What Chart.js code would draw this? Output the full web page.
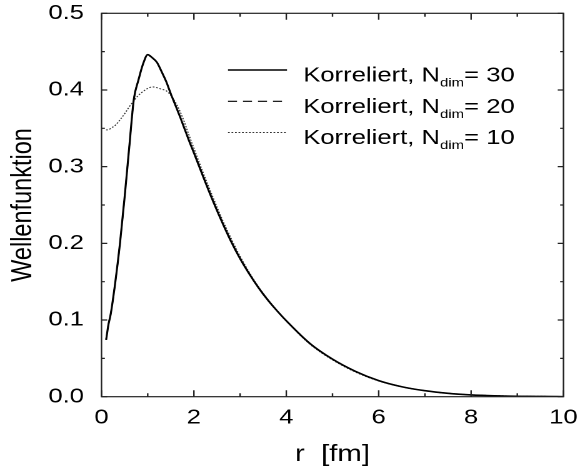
<!DOCTYPE html>
<html>
<head>
<meta charset="utf-8">
<script src="https://cdn.jsdelivr.net/npm/chart.js@4.4.0/dist/chart.umd.min.js"></script>
<style>
    html, body { margin: 0; padding: 0; background: #fff; overflow: hidden; }
    /* the reference is a horizontally stretched plot, so draw narrow and stretch */
    #wrap { width: 462.4px; height: 472px; transform: scaleX(1.25); transform-origin: 0 0; }
</style>
</head>
<body>
<div id="wrap"><canvas id="chart"></canvas></div>
<script>
const rValues = [0.1, 0.15, 0.2, 0.3, 0.4, 0.5, 0.6, 0.7, 0.8, 0.9, 1.0, 1.1, 1.2, 1.3, 1.4, 1.5, 1.6, 1.7, 1.8, 1.9, 2.0,
    2.2, 2.4, 2.6, 2.8, 3.0, 3.2, 3.4, 3.6, 3.8, 4.0, 4.5, 5.0, 5.5, 6.0, 6.5, 7.0, 7.5, 8.0, 8.5, 9.0, 9.5, 10.0];

const psiN30 = [0.074, 0.094, 0.108, 0.150, 0.200, 0.260, 0.325, 0.388, 0.413, 0.434, 0.446, 0.442, 0.436, 0.424, 0.411, 0.395, 0.380, 0.365, 0.349, 0.333, 0.318,
    0.287, 0.257, 0.229, 0.203, 0.180, 0.160, 0.142, 0.126, 0.112, 0.099, 0.070, 0.049, 0.033, 0.021, 0.013, 0.0078, 0.0044, 0.0023, 0.0012, 0.0006, 0.0003, 0.0001];

const psiN20 = [0.075, 0.094, 0.108, 0.150, 0.200, 0.260, 0.325, 0.388, 0.413, 0.434, 0.445, 0.442, 0.436, 0.424, 0.411, 0.395, 0.380, 0.365, 0.349, 0.333, 0.318,
    0.287, 0.257, 0.229, 0.203, 0.180, 0.160, 0.142, 0.126, 0.112, 0.099, 0.070, 0.049, 0.033, 0.021, 0.013, 0.0078, 0.0044, 0.0023, 0.0012, 0.0006, 0.0003, 0.0001];

const psiN10 = [0.348, 0.348, 0.350, 0.354, 0.361, 0.369, 0.378, 0.386, 0.393, 0.398, 0.402, 0.404, 0.403, 0.401, 0.399, 0.393, 0.384, 0.372, 0.357, 0.340, 0.324,
    0.292, 0.262, 0.233, 0.207, 0.183, 0.162, 0.143, 0.127, 0.112, 0.099, 0.069, 0.048, 0.032, 0.0205, 0.0128, 0.0078, 0.0046, 0.0025, 0.0014, 0.0007, 0.0004, 0.0002];

const seriesDims = ['30', '20', '10'];
const FONT = "'Liberation Sans', Arial, Helvetica, sans-serif";

const toPoints = arr => arr.map((v, i) => ({ x: rValues[i], y: v }));

// gnuplot-style box with inward ticks on all four sides
const frameAndTicks = {
    id: 'frameAndTicks',
    afterDatasetsDraw(chart) {
        const { ctx, chartArea: a, scales: { x, y } } = chart;
        ctx.save();
        ctx.strokeStyle = '#222';
        ctx.lineWidth = 1.2;
        ctx.strokeRect(a.left, a.top, a.right - a.left, a.bottom - a.top);
        ctx.beginPath();
        for (let v = 0; v <= 10; v++) {
            const px = x.getPixelForValue(v);
            const len = v % 2 === 0 ? 6.5 : 3.5;
            ctx.moveTo(px, a.bottom); ctx.lineTo(px, a.bottom - len);
            ctx.moveTo(px, a.top); ctx.lineTo(px, a.top + len);
        }
        for (let i = 0; i <= 10; i++) {
            const py = y.getPixelForValue(i * 0.05);
            const len = i % 2 === 0 ? 4.6 : 2.7;
            ctx.moveTo(a.left, py); ctx.lineTo(a.left + len, py);
            ctx.moveTo(a.right, py); ctx.lineTo(a.right - len, py);
        }
        ctx.stroke();
        ctx.restore();
    }
};

// legend with subscript N_dim
const subLegend = {
    id: 'subLegend',
    afterDraw(chart) {
        const ctx = chart.ctx;
        const lineX0 = 182.4, lineX1 = 229.6, textX = 242.6;
        const rowY = [81.5, 112.8, 144];
        ctx.save();
        chart.data.datasets.forEach((ds, i) => {
            const base = rowY[i];
            ctx.beginPath();
            ctx.strokeStyle = ds.borderColor;
            ctx.lineWidth = ds.borderWidth;
            ctx.setLineDash(ds.borderDash || []);
            ctx.moveTo(lineX0, base - 11.5);
            ctx.lineTo(lineX1, base - 11.5);
            ctx.stroke();
            ctx.setLineDash([]);

            ctx.fillStyle = '#000';
            ctx.textBaseline = 'alphabetic';
            ctx.textAlign = 'left';
            let cx = textX;
            ctx.font = '20.5px ' + FONT;
            ctx.fillText('Korreliert, N', cx, base);
            cx += ctx.measureText('Korreliert, N').width;
            ctx.font = '12px ' + FONT;
            ctx.fillText('dim', cx, base + 5);
            cx += ctx.measureText('dim').width;
            ctx.font = '20.5px ' + FONT;
            ctx.fillText('= ' + seriesDims[i], cx, base);
        });
        ctx.restore();
    }
};

new Chart(document.getElementById('chart'), {
    type: 'line',
    data: {
        datasets: [
            { label: 'N30', data: toPoints(psiN30), borderColor: '#000', borderWidth: 1.6, cubicInterpolationMode: 'monotone' },
            { label: 'N20', data: toPoints(psiN20), borderColor: '#000', borderWidth: 1.1, borderDash: [7.2, 4.8], cubicInterpolationMode: 'monotone' },
            { label: 'N10', data: toPoints(psiN10), borderColor: '#333', borderWidth: 1, borderDash: [1.4, 1.4], cubicInterpolationMode: 'monotone' }
        ]
    },
    options: {
        responsive: true,
        maintainAspectRatio: false,
        animation: false,
        devicePixelRatio: 2,
        layout: { padding: { top: 13.3, right: 11.6, left: 0, bottom: 0 } },
        elements: { point: { radius: 0 } },
        plugins: { legend: { display: false }, tooltip: { enabled: false } },
        scales: {
            x: {
                type: 'linear', min: 0, max: 10,
                afterFit: s => { s.height = 75.3; s.paddingLeft = 0; s.paddingRight = 0; },
                grid: { display: false, drawTicks: false },
                border: { display: false },
                ticks: { stepSize: 2, padding: 9, color: '#000', maxRotation: 0, autoSkip: false, font: { family: FONT, size: 20.5 } },
                title: { display: true, text: 'r  [fm]', color: '#000', font: { family: FONT, size: 23.5 }, padding: { top: 0, bottom: 3.4 } }
            },
            y: {
                min: 0, max: 0.5,
                afterFit: s => { s.width = 81.2; s.paddingTop = 0; s.paddingBottom = 0; },
                grid: { display: false, drawTicks: false },
                border: { display: false },
                ticks: { stepSize: 0.1, padding: 14, color: '#000', callback: v => v.toFixed(1), font: { family: FONT, size: 20.5 } },
                title: { display: true, text: 'Wellenfunktion', color: '#000', font: { family: FONT, size: 23.5 }, padding: { top: 4.5, bottom: 0 } }
            }
        }
    },
    plugins: [frameAndTicks, subLegend]
});
</script>
</body>
</html>
